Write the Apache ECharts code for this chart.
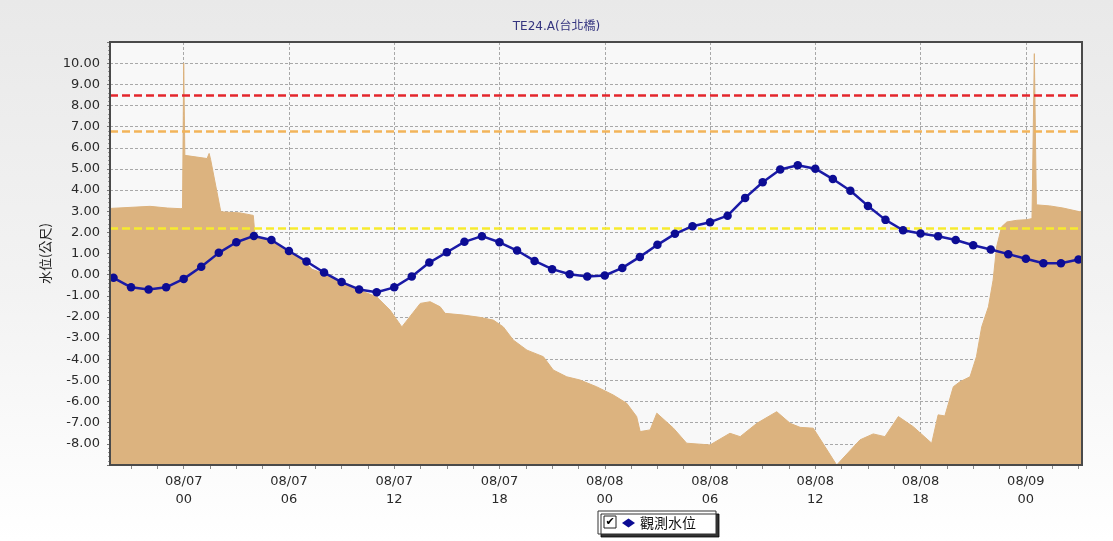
<!DOCTYPE html>
<html>
<head>
<meta charset="utf-8">
<title>TE24.A(台北橋)</title>
<script src="https://cdn.jsdelivr.net/npm/echarts@6/dist/echarts.min.js"></script>
<style>
  html, body { margin: 0; padding: 0; }
  #chart {
    width: 1113px; height: 541px;
    background: linear-gradient(to bottom, #e9e9e9 0%, #f3f3f3 55%, #ffffff 100%);
  }
</style>
</head>
<body>
<div id="chart"></div>
<script>
// Station water level, hourly observations from 08/06 20:00
const obsStart = '08/06 20:00';
const obsLevels = [
  -0.15, -0.60, -0.70, -0.60, -0.20, 0.37, 1.03, 1.53, 1.83, 1.64,
  1.12, 0.62, 0.10, -0.35, -0.70, -0.83, -0.60, -0.09, 0.57, 1.06,
  1.55, 1.82, 1.53, 1.14, 0.65, 0.26, 0.02, -0.09, -0.04, 0.32,
  0.84, 1.41, 1.93, 2.29, 2.48, 2.79, 3.63, 4.37, 4.97, 5.17,
  5.01, 4.52, 3.97, 3.25, 2.59, 2.10, 1.95, 1.82, 1.64, 1.39,
  1.19, 0.97, 0.75, 0.54, 0.54, 0.72
];

// Background filled profile (irregular time stamps)
const bandTimes = [
  '08/06 19:48', '08/06 22:05', '08/06 23:04', '08/06 23:48', '08/06 23:56',
  '08/07 00:00', '08/07 00:04', '08/07 01:20', '08/07 01:27', '08/07 01:32',
  '08/07 02:07', '08/07 03:13', '08/07 03:58', '08/07 04:04', '08/07 05:02',
  '08/07 06:04', '08/07 06:55', '08/07 07:19', '08/07 08:04', '08/07 08:55',
  '08/07 10:00', '08/07 11:00', '08/07 11:46', '08/07 12:26', '08/07 13:29',
  '08/07 14:03', '08/07 14:37', '08/07 14:54', '08/07 15:56', '08/07 16:53',
  '08/07 17:39', '08/07 18:13', '08/07 18:47', '08/07 19:34', '08/07 20:30',
  '08/07 21:04', '08/07 21:50', '08/07 22:35', '08/07 23:32', '08/08 00:29',
  '08/08 01:15', '08/08 01:49', '08/08 02:01', '08/08 02:35', '08/08 02:58',
  '08/08 03:55', '08/08 04:40', '08/08 06:00', '08/08 07:08', '08/08 07:43',
  '08/08 08:40', '08/08 09:48', '08/08 10:34', '08/08 11:08', '08/08 11:53',
  '08/08 13:13', '08/08 14:33', '08/08 15:18', '08/08 15:58', '08/08 16:44',
  '08/08 17:35', '08/08 18:38', '08/08 19:00', '08/08 19:23', '08/08 19:52',
  '08/08 20:15', '08/08 20:49', '08/08 21:11', '08/08 21:29', '08/08 21:52',
  '08/08 22:08', '08/08 22:20', '08/08 22:37', '08/08 22:55', '08/08 23:29',
  '08/09 00:03', '08/09 00:21', '08/09 00:29', '08/09 00:36', '08/09 01:22',
  '08/09 02:07', '08/09 03:12'
];
const bandValues = [
  3.13, 3.23, 3.15, 3.12, 3.13,
  10.00, 5.64, 5.49, 5.73, 5.45,
  2.97, 2.92, 2.80, 1.83, 1.60,
  1.10, 0.60, 0.25, 0.04, -0.35,
  -0.73, -1.05, -1.68, -2.47, -1.36,
  -1.28, -1.52, -1.83, -1.91, -2.02,
  -2.15, -2.47, -3.09, -3.57, -3.88,
  -4.51, -4.83, -4.98, -5.30, -5.69,
  -6.08, -6.71, -7.42, -7.34, -6.55,
  -7.26, -7.97, -8.05, -7.50, -7.66,
  -7.03, -6.48, -7.03, -7.22, -7.26,
  -9.00, -7.81, -7.53, -7.66, -6.71,
  -7.19, -7.97, -6.63, -6.68, -5.30,
  -5.06, -4.83, -3.88, -2.47, -1.52,
  -0.26, 1.31, 2.26, 2.49, 2.57,
  2.60, 2.65, 10.45, 3.30, 3.25,
  3.15, 2.95
];

// Alert levels
const alertLevels = [8.47, 6.77, 2.21];
const alertColors = ['#e3262c', '#f2b45a', '#f6ea2e'];

// Time axis range and labelled ticks
const axisStart = '08/06 19:48';
const axisEnd = '08/09 03:12';
const xTicks = [
  '08/07 00:00', '08/07 06:00', '08/07 12:00', '08/07 18:00',
  '08/08 00:00', '08/08 06:00', '08/08 12:00', '08/08 18:00', '08/09 00:00'
];
const YEAR = 2015;

function toTime(s) {
  const [md, hm] = s.split(' ');
  const [mo, d] = md.split('/').map(Number);
  const [h, m] = hm.split(':').map(Number);
  return new Date(YEAR, mo - 1, d, h, m).getTime();
}
const pad = n => (n < 10 ? '0' : '') + n;
const HOUR = 3600 * 1000;

const W = 1113, H = 541;
const GRID = { left: 110, top: 42, right: 31, bottom: 76 };

const xMin = toTime(axisStart);
const xMax = toTime(axisEnd);
const majorTicks = xTicks.map(toTime);
// small ticks every 1.5 h between the labelled ones
const minorTicks = [];
for (let t = majorTicks[0] - 3 * 1.5 * HOUR; t <= xMax; t += 1.5 * HOUR) {
  if (t >= xMin) minorTicks.push(t);
}

const t0 = toTime(obsStart);
const obsData = obsLevels.map((v, i) => [t0 + i * HOUR, v]);
const bandData = bandTimes.map((t, i) => [toTime(t), bandValues[i]]);

const chart = echarts.init(document.getElementById('chart'), null, { renderer: 'canvas' });

const labelColor = '#2a2a2a';

chart.setOption({
  animation: false,
  textStyle: { fontFamily: 'DejaVu Sans, "Noto Sans CJK TC", sans-serif' },
  title: {
    text: 'TE24.A(台北橋)',
    left: 'center',
    top: 16,
    textStyle: { fontSize: 12, fontWeight: 'normal', color: '#34347f', fontFamily: 'DejaVu Sans, "Noto Sans CJK TC"' }
  },
  grid: {
    left: GRID.left, top: GRID.top, right: GRID.right, bottom: GRID.bottom,
    show: true, backgroundColor: '#f8f8f8', borderWidth: 0
  },
  legend: {
    data: [{ name: '觀測水位', icon: 'diamond' }],
    left: 598, top: 511,
    padding: [5, 20, 4, 24],
    itemWidth: 13, itemHeight: 9, itemGap: 6,
    backgroundColor: '#ffffff',
    borderColor: '#333', borderWidth: 1,
    shadowColor: 'rgba(0,0,0,0.8)', shadowOffsetX: 3, shadowOffsetY: 3, shadowBlur: 0,
    selectedMode: false,
    textStyle: { fontSize: 14, color: '#111', fontFamily: '"Noto Sans CJK TC", sans-serif' }
  },
  xAxis: [
    {
      type: 'value',
      min: xMin, max: xMax,
      axisLine: { show: false, onZero: false },
      axisTick: { show: true, length: 4, customValues: majorTicks, lineStyle: { color: '#666' } },
      splitLine: { show: true, lineStyle: { color: '#a8a8a8', type: [3, 2], width: 1 } },
      axisLabel: {
        customValues: majorTicks,
        margin: 8,
        fontSize: 13, lineHeight: 18, color: labelColor,
        formatter: function (val) {
          const d = new Date(val);
          return pad(d.getMonth() + 1) + '/' + pad(d.getDate()) + '\n' + pad(d.getHours());
        }
      }
    },
    {
      // minor tick marks only
      type: 'value',
      position: 'bottom',
      min: xMin, max: xMax,
      axisLine: { show: false, onZero: false },
      axisTick: { show: true, length: 4, customValues: minorTicks, lineStyle: { color: '#888' } },
      splitLine: { show: false },
      axisLabel: { show: false }
    }
  ],
  yAxis: {
    type: 'value',
    min: -9, max: 11, interval: 1,
    name: '水位(公尺)',
    nameLocation: 'middle',
    nameRotate: 90,
    nameGap: 56,
    nameTextStyle: { fontSize: 13, color: '#222', fontFamily: '"Noto Sans CJK TC", sans-serif' },
    axisLine: { show: false, onZero: false },
    axisTick: { show: true, length: 3, lineStyle: { color: '#777' } },
    minorTick: { show: true, splitNumber: 5, length: 2, lineStyle: { color: '#999' } },
    splitLine: { show: true, lineStyle: { color: '#a8a8a8', type: [3, 2], width: 1 } },
    axisLabel: {
      margin: 10, fontSize: 13, color: labelColor,
      formatter: function (v) {
        if (v <= -9 || v >= 11) return '';
        return v.toFixed(2);
      }
    }
  },
  graphic: [
    {
      // plot frame drawn above the filled profile
      type: 'rect', z: 50, silent: true,
      shape: { x: GRID.left, y: GRID.top, width: W - GRID.left - GRID.right, height: H - GRID.top - GRID.bottom },
      style: { fill: 'none', stroke: '#4a4a4a', lineWidth: 2 }
    },
    {
      // legend checkbox
      type: 'rect', z: 60, silent: true,
      shape: { x: 604, y: 516, width: 12, height: 12 },
      style: { fill: '#fff', stroke: '#222', lineWidth: 1 }
    },
    {
      type: 'text', z: 61, silent: true,
      style: { x: 610, y: 522.5, text: '✔', fill: '#000', font: 'bold 11px DejaVu Sans', align: 'center', verticalAlign: 'middle' }
    }
  ],
  series: [
    {
      name: '水位剖面',
      type: 'line',
      data: bandData,
      symbol: 'none',
      z: 2,
      lineStyle: { color: '#dcb27d', width: 1 },
      areaStyle: { color: '#dcb37f', opacity: 1, origin: 'start' },
      markLine: {
        silent: true,
        symbol: ['none', 'none'],
        label: { show: false },
        z: 3,
        data: alertLevels.map((v, i) => ({
          yAxis: v,
          lineStyle: { color: alertColors[i], width: 2.5, type: [8, 4] }
        }))
      }
    },
    {
      name: '觀測水位',
      type: 'line',
      data: obsData,
      z: 5,
      symbol: 'circle',
      symbolSize: 8.5,
      showAllSymbol: true,
      itemStyle: { color: '#0c0c94' },
      lineStyle: { color: '#1a1aa6', width: 2.5 }
    }
  ]
});
</script>
</body>
</html>
